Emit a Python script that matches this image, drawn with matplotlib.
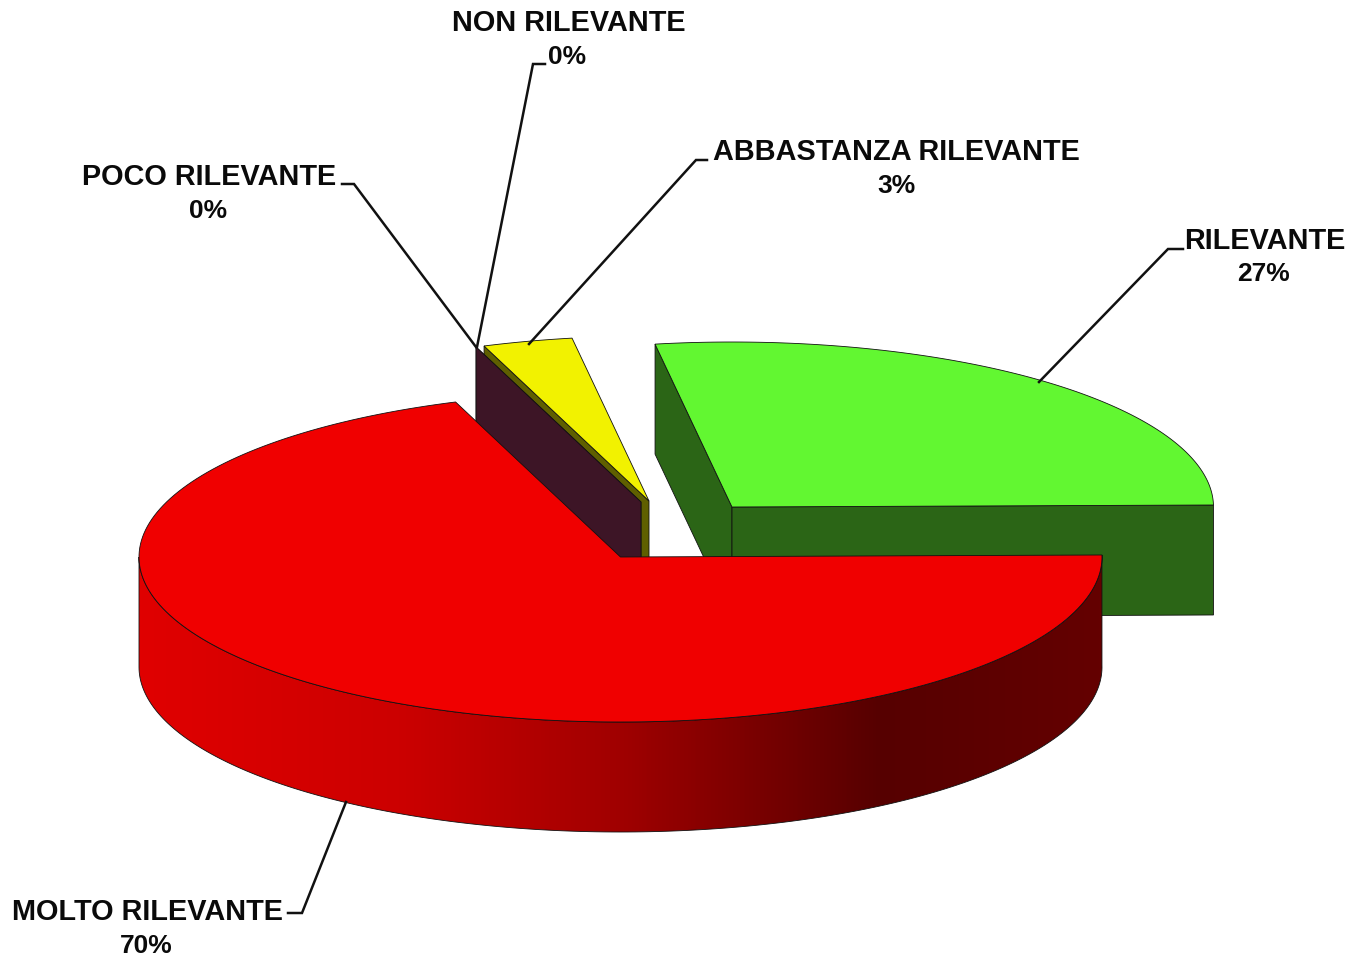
import numpy as np
import matplotlib
matplotlib.use('Agg')
import matplotlib.pyplot as plt
from matplotlib.colors import LinearSegmentedColormap
from matplotlib.patches import Polygon

# Data
categories = ['MOLTO RILEVANTE', 'NON RILEVANTE', 'POCO RILEVANTE',
              'ABBASTANZA RILEVANTE', 'RILEVANTE']
values = [69.63, 0.0, 0.0, 3.01, 27.36]

# Look of the fake 3D pie (everything in image pixels)
top_colors = ['#f00000', '#3d1526', '#3d1526', '#f2f200', '#62f731']
wall_colors = ['#5a0000', '#3d1526', '#3d1526', '#5f5f00', '#2b6516']
offsets = [(0, 0), (20.5, -55), (20.5, -55), (28.5, -56), (111.5, -50)]
center = (620.5, 557)
rx, ry = 481.5, 165
depth = 110
start_angle = 0.7
edge = dict(edgecolor='#111111', linewidth=0.6)

# where the labels sit: name line, percent line, leader line
label_pos = [(148, 912, 146, 946), (569, 23, 567, 57), (209, 177, 208, 211),
             (896, 152, 896, 186), (1265, 241, 1263, 274)]
leaders = [[(288, 913), (302, 913), (346, 802)],
           [(545, 64), (533, 64), (477, 347)],
           [(342, 184), (354, 184), (476, 347)],
           [(707, 160), (696, 160), (529, 344)],
           [(1183, 249), (1168, 249), (1039, 382)]]


def rim(cx, cy, t1, t2, n=200):
    t = np.radians(np.linspace(t1, t2, n))
    return np.column_stack([cx + rx * np.cos(t), cy - ry * np.sin(t)])


def point(cx, cy, t):
    return rim(cx, cy, t, t, 1)[0]


def cut_wall(ax, cx, cy, t, color, z):
    p = point(cx, cy, t)
    pts = [(cx, cy), p, (p[0], p[1] + depth), (cx, cy + depth)]
    ax.add_patch(Polygon(pts, closed=True, facecolor=color, zorder=z, **edge))


fig = plt.figure(figsize=(13.52, 9.57), dpi=100)
ax = fig.add_axes([0, 0, 1, 1])

# angles go clockwise starting from the right
sweeps = np.array(values) / sum(values) * 360
ends = start_angle - np.cumsum(sweeps)
starts = ends + sweeps

# back slices first, the big red one goes on top of them
for i in [4, 3, 2, 1, 0]:
    cx = center[0] + offsets[i][0]
    cy = center[1] + offsets[i][1]
    z = 5 - i
    if i == 4:
        cut_wall(ax, cx, cy, starts[i], wall_colors[i], z)
        cut_wall(ax, cx, cy, ends[i], wall_colors[i], z)
    elif i in (1, 2, 3):
        cut_wall(ax, cx, cy, starts[i], wall_colors[i], z)
    if sweeps[i] > 0:
        outer = rim(cx, cy, starts[i], ends[i])
        if i == 0:
            # front side of the red slice with its shading
            front = rim(cx, cy, start_angle, -180)
            band = np.vstack([front, (front + [0, depth])[::-1]])
            side = Polygon(band, closed=True, facecolor='none', zorder=z, **edge)
            ax.add_patch(side)
            shade = LinearSegmentedColormap.from_list('shade', [
                (0.0, '#e00000'), (0.27, '#cc0000'), (0.5, '#a00000'),
                (0.77, '#560000'), (1.0, '#640000')])
            img = ax.imshow(np.linspace(0, 1, 512).reshape(1, -1), cmap=shade,
                            extent=(front[:, 0].min(), front[:, 0].max(), 850, 540),
                            aspect='auto', zorder=z - 0.1)
            img.set_clip_path(side)
        top = np.vstack([(cx, cy), outer])
        ax.add_patch(Polygon(top, closed=True, facecolor=top_colors[i], zorder=z + 0.1, **edge))

# labels and leader lines
for i, name in enumerate(categories):
    xs, ys = zip(*leaders[i])
    ax.plot(xs, ys, color='#111111', lw=1.8, zorder=10, solid_joinstyle='miter')
    nx, ny, px, py = label_pos[i]
    ax.text(nx, ny, name, ha='center', va='center', fontsize=20.8,
            fontweight='bold', family='Liberation Sans', color='#0a0a0a', zorder=11)
    ax.text(px, py, f'{round(values[i])}%', ha='center', va='center', fontsize=19,
            fontweight='bold', family='Liberation Sans', color='#0a0a0a', zorder=11)

ax.set_xlim(0, 1352)
ax.set_ylim(957, 0)
ax.axis('off')
fig.savefig('out.png', dpi=100, facecolor='white')
